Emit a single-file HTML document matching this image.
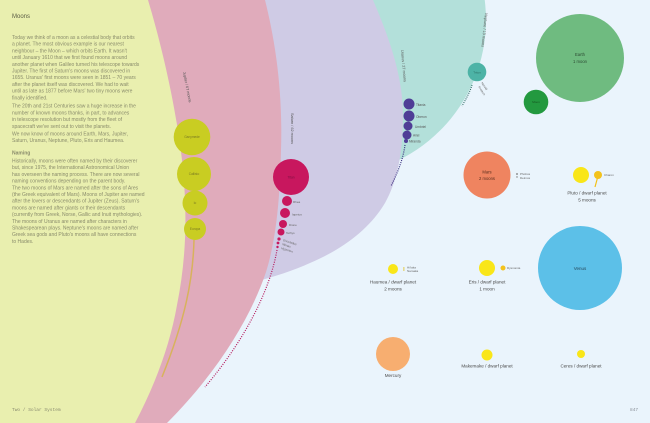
<!DOCTYPE html>
<html><head><meta charset="utf-8"><style>
html,body{margin:0;padding:0;background:#eaf4fc;}
svg{display:block;}
.b{font-family:"Liberation Sans",sans-serif;font-size:5px;fill:#8a8c6c;}
.l{font-family:"Liberation Sans",sans-serif;fill:#4a4a4a;text-anchor:middle;}
.s{font-family:"Liberation Sans",sans-serif;fill:#666;font-size:3px;}
</style></head><body>
<svg width="650" height="423" viewBox="0 0 650 423" xmlns="http://www.w3.org/2000/svg">
<rect width="650" height="423" fill="#eaf4fc"/>
<!-- Neptune (teal) -->
<circle cx="330" cy="20" r="156" fill="#b3e0da"/>
<!-- Uranus (lavender) -->
<path d="M150,0 L373,0 C388,35 403,75 403,115 C403,150 398,180 385,203 C370,228 345,248 310,263 C290,272 265,280 240,285 L150,300 Z" fill="#cfcbe5"/>
<!-- Saturn (pink) -->
<path d="M0,0 L265,0 C275,40 283,90 281,150 C280,200 276,240 266,272 C250,320 215,375 167,423 L0,423 Z" fill="#e0abbb"/>
<!-- Jupiter (yellow) -->
<path d="M0,0 L148,0 C160,40 175,100 182,160 C188,215 186,260 177,305 C170,345 155,385 135,423 L0,423 Z" fill="#e9efaf"/>

<!-- Left text column -->
<text x="12" y="18" font-family="Liberation Sans,sans-serif" font-size="6" fill="#5a5c44">Moons</text>
<text class="b" x="12" y="39">Today we think of a moon as a celestial body that orbits</text>
<text class="b" x="12" y="45.7">a planet. The most obvious example is our nearest</text>
<text class="b" x="12" y="52.4">neighbour – the Moon – which orbits Earth. It wasn't</text>
<text class="b" x="12" y="59.1">until January 1610 that we first found moons around</text>
<text class="b" x="12" y="65.8">another planet when Galileo turned his telescope towards</text>
<text class="b" x="12" y="72.5">Jupiter. The first of Saturn's moons was discovered in</text>
<text class="b" x="12" y="79.2">1655. Uranus' first moons were seen in 1851 – 70 years</text>
<text class="b" x="12" y="85.9">after the planet itself was discovered. We had to wait</text>
<text class="b" x="12" y="92.6">until as late as 1877 before Mars' two tiny moons were</text>
<text class="b" x="12" y="99.3">finally identified.</text>
<text class="b" x="12" y="107.7">The 20th and 21st Centuries saw a huge increase in the</text>
<text class="b" x="12" y="114.4">number of known moons thanks, in part, to advances</text>
<text class="b" x="12" y="121.1">in telescope resolution but mostly from the fleet of</text>
<text class="b" x="12" y="127.8">spacecraft we've sent out to visit the planets.</text>
<text class="b" x="12" y="135.5">We now know of moons around Earth, Mars, Jupiter,</text>
<text class="b" x="12" y="142.2">Saturn, Uranus, Neptune, Pluto, Eris and Haumea.</text>
<text class="b" x="12" y="154.5" font-weight="bold" fill="#6e7052">Naming</text>
<text class="b" x="12" y="162.5">Historically, moons were often named by their discoverer</text>
<text class="b" x="12" y="169.2">but, since 1975, the International Astronomical Union</text>
<text class="b" x="12" y="175.9">has overseen the naming process. There are now several</text>
<text class="b" x="12" y="182.6">naming conventions depending on the parent body.</text>
<text class="b" x="12" y="189.3">The two moons of Mars are named after the sons of Ares</text>
<text class="b" x="12" y="196">(the Greek equivalent of Mars). Moons of Jupiter are named</text>
<text class="b" x="12" y="202.7">after the lovers or descendants of Jupiter (Zeus). Saturn's</text>
<text class="b" x="12" y="209.4">moons are named after giants or their descendants</text>
<text class="b" x="12" y="216.1">(currently from Greek, Norse, Gallic and Inuit mythologies).</text>
<text class="b" x="12" y="222.8">The moons of Uranus are named after characters in</text>
<text class="b" x="12" y="229.5">Shakespearean plays. Neptune's moons are named after</text>
<text class="b" x="12" y="236.2">Greek sea gods and Pluto's moons all have connections</text>
<text class="b" x="12" y="242.9">to Hades.</text>

<text x="12" y="411" font-family="Liberation Mono,monospace" font-size="4.5" fill="#8a8c70">Two / Solar System</text>
<text x="630" y="411" font-family="Liberation Mono,monospace" font-size="4.5" fill="#8a9098">847</text>

<!-- Jupiter moons -->
<path d="M194,240 C193,280 185,320 162,377" fill="none" stroke="#d8b25c" stroke-width="1.5"/>
<circle cx="192" cy="137" r="18.3" fill="#c9cd22"/>
<circle cx="194" cy="174" r="17" fill="#c9cd22"/>
<circle cx="195" cy="203" r="12.5" fill="#c9cd22"/>
<circle cx="195" cy="229" r="11" fill="#c9cd22"/>
<g class="l" font-size="3.2" style="fill:#7a7a22">
<text x="192" y="138">Ganymede</text>
<text x="194" y="175">Callisto</text>
<text x="195" y="204">Io</text>
<text x="195" y="230">Europa</text>
</g>
<text transform="translate(183,72) rotate(79)" font-family="Liberation Sans,sans-serif" font-size="3.8" fill="#555">Jupiter / 67 moons</text>

<!-- Saturn moons -->
<path d="M277,250 C270,290 245,340 205,387" fill="none" stroke="#b5195c" stroke-width="1.2" stroke-dasharray="1 1.4"/>
<circle cx="291" cy="177" r="18" fill="#c8175e"/>
<circle cx="287" cy="201" r="5" fill="#c8175e"/>
<circle cx="285" cy="213" r="5" fill="#c8175e"/>
<circle cx="283" cy="224" r="4" fill="#c8175e"/>
<circle cx="281" cy="232" r="3.5" fill="#c8175e"/>
<circle cx="279" cy="239" r="1.6" fill="#c8175e"/>
<circle cx="278" cy="243" r="1.4" fill="#c8175e"/>
<circle cx="277.5" cy="247" r="1.2" fill="#c8175e"/>
<text class="l" x="291" y="178.5" font-size="3.2" style="fill:#7a1040">Titan</text>
<text class="s" x="293" y="203">Rhea</text>
<text class="s" x="292" y="215.5">Iapetus</text>
<text class="s" x="289" y="226">Dione</text>
<text class="s" x="286" y="234">Tethys</text>
<text class="s" transform="translate(283,241) rotate(18)">Enceladus</text>
<text class="s" transform="translate(282,245) rotate(18)">Mimas</text>
<text class="s" transform="translate(281,249) rotate(18)">Hyperion</text>
<text transform="translate(291,113) rotate(90)" font-family="Liberation Sans,sans-serif" font-size="3.8" fill="#555">Saturn / 62 moons</text>

<!-- Uranus moons -->
<path d="M405,145 C403,160 397,174 391,186" fill="none" stroke="#3a2f80" stroke-width="1.2" stroke-dasharray="1 1.2"/>
<circle cx="409" cy="104" r="5.5" fill="#4f3d96"/>
<circle cx="409" cy="116" r="5.5" fill="#4f3d96"/>
<circle cx="408" cy="126" r="4.5" fill="#4f3d96"/>
<circle cx="407" cy="135" r="4.5" fill="#4f3d96"/>
<circle cx="406" cy="141" r="2" fill="#4f3d96"/>
<g font-family="Liberation Sans,sans-serif" font-size="3.2" fill="#555">
<text x="416" y="106">Titania</text>
<text x="416" y="118">Oberon</text>
<text x="415" y="128">Umbriel</text>
<text x="413" y="136.5">Ariel</text>
<text x="409" y="142.5">Miranda</text>
</g>
<text transform="translate(401,50) rotate(85)" font-family="Liberation Sans,sans-serif" font-size="3.8" fill="#555">Uranus / 27 moons</text>

<!-- Neptune moons -->
<path d="M472,85 C470,92 466,99 462,106" fill="none" stroke="#2f6f66" stroke-width="1.1" stroke-dasharray="1 1.1"/>
<circle cx="477" cy="72" r="9.3" fill="#4db3a6"/>
<text class="l" x="477" y="73.3" font-size="3" style="fill:#2a6d64">Triton</text>
<text class="s" transform="translate(481,83) rotate(55)">Nereid</text>
<text class="s" transform="translate(478,87) rotate(55)">Proteus</text>
<text transform="translate(485,13) rotate(96)" font-family="Liberation Sans,sans-serif" font-size="3.8" fill="#555">Neptune / 13 moons</text>

<!-- Earth -->
<circle cx="580" cy="58" r="44" fill="#6fbb80"/>
<text class="l" x="580" y="56" font-size="4.2" style="fill:#2c4a32">Earth</text>
<text class="l" x="580" y="63" font-size="4.2" style="fill:#2c4a32">1 moon</text>
<circle cx="536" cy="102" r="12.3" fill="#23993f"/>
<text class="l" x="536" y="103.2" font-size="3" style="fill:#15501f">Moon</text>

<!-- Mars -->
<circle cx="487" cy="175" r="23.5" fill="#ef8460"/>
<text class="l" x="487" y="173.5" font-size="4.2" style="fill:#5a2f1f">Mars</text>
<text class="l" x="487" y="180" font-size="4.2" style="fill:#5a2f1f">2 moons</text>
<circle cx="517" cy="174" r="0.9" fill="#777"/>
<circle cx="517" cy="177" r="0.7" fill="#777"/>
<text class="s" x="520" y="175">Phobos</text>
<text class="s" x="520" y="179">Deimos</text>

<!-- Pluto -->
<line x1="598" y1="176" x2="595" y2="187" stroke="#f2c018" stroke-width="1.2"/>
<circle cx="581" cy="175" r="8" fill="#f9e619"/>
<circle cx="598" cy="175" r="4" fill="#f3c21c"/>
<text class="s" x="604" y="176.2">Charon</text>
<text class="l" x="587" y="194.5" font-size="4.6">Pluto / dwarf planet</text>
<text class="l" x="587" y="201.5" font-size="4.6">5 moons</text>

<!-- Venus -->
<circle cx="580" cy="268" r="42" fill="#5cc0e8"/>
<text class="l" x="580" y="270" font-size="4.5" style="fill:#27485a">Venus</text>

<!-- Haumea -->
<circle cx="393" cy="269" r="5" fill="#f9e619"/>
<rect x="403.5" y="267" width="0.8" height="4" fill="#e0c020"/>
<text class="s" x="407" y="268.5">Hi'iaka</text>
<text class="s" x="407" y="272">Namaka</text>
<text class="l" x="393" y="283.5" font-size="4.6">Haumea / dwarf planet</text>
<text class="l" x="393" y="290.5" font-size="4.6">2 moons</text>

<!-- Eris -->
<circle cx="487" cy="268" r="8" fill="#f9e619"/>
<circle cx="503" cy="268" r="2.5" fill="#f3c21c"/>
<text class="s" x="507" y="269">Dysnomia</text>
<text class="l" x="487" y="283.5" font-size="4.6">Eris / dwarf planet</text>
<text class="l" x="487" y="290.5" font-size="4.6">1 moon</text>

<!-- Mercury -->
<circle cx="393" cy="354" r="17" fill="#f7ae70"/>
<text class="l" x="393" y="377" font-size="4.6">Mercury</text>

<!-- Makemake -->
<circle cx="487" cy="355" r="5.5" fill="#f9e619"/>
<text class="l" x="487" y="367.5" font-size="4.6">Makemake / dwarf planet</text>

<!-- Ceres -->
<circle cx="581" cy="354" r="4" fill="#f9e619"/>
<text class="l" x="581" y="367.5" font-size="4.6">Ceres / dwarf planet</text>
</svg>
</body></html>
